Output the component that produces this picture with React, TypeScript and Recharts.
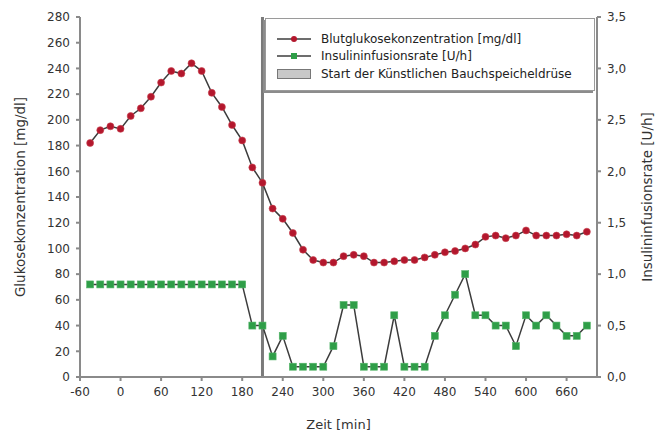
import { ComposedChart, Line, XAxis, YAxis, ReferenceLine, Legend } from "recharts";

// minutes relative to start
const times = [
  -45, -30, -15, 0, 15, 30, 45, 60, 75, 90, 105, 120, 135, 150, 165, 180, 195, 210, 225, 240,
  255, 270, 285, 300, 315, 330, 345, 360, 375, 390, 405, 420, 435, 450, 465, 480, 495, 510, 525, 540,
  555, 570, 585, 600, 615, 630, 645, 660, 675, 690,
];

// Blutglukose [mg/dl]
const glucose = [
  182, 192, 195, 193, 203, 209, 218, 229, 238, 236, 244, 238, 221, 210, 196, 184, 163, 151, 131, 123,
  112, 99, 91, 89, 89, 94, 95, 94, 89, 89, 90, 91, 91, 93, 95, 97, 98, 100, 103, 109,
  110, 108, 110, 114, 110, 110, 110, 111, 110, 113,
];

// Insulininfusionsrate [U/h]
const insulin = [
  0.9, 0.9, 0.9, 0.9, 0.9, 0.9, 0.9, 0.9, 0.9, 0.9, 0.9, 0.9, 0.9, 0.9, 0.9, 0.9, 0.5, 0.5, 0.2, 0.4,
  0.1, 0.1, 0.1, 0.1, 0.3, 0.7, 0.7, 0.1, 0.1, 0.1, 0.6, 0.1, 0.1, 0.1, 0.4, 0.6, 0.8, 1.0, 0.6, 0.6,
  0.5, 0.5, 0.3, 0.6, 0.5, 0.6, 0.5, 0.4, 0.4, 0.5,
];

const timeTicks = [-60, 0, 60, 120, 180, 240, 300, 360, 420, 480, 540, 600, 660];
const glucoseTicks = [0, 20, 40, 60, 80, 100, 120, 140, 160, 180, 200, 220, 240, 260, 280];
const insulinTicks = [0, 0.5, 1, 1.5, 2, 2.5, 3, 3.5];
const startTime = 210;

const data = times.map((t, i) => ({ t, glucose: glucose[i], insulin: insulin[i] }));

const FONT = "'DejaVu Sans', Verdana, sans-serif";
const AXIS = "#8a8a8a";
const TEXT = "#333";
const RED = "#b3172d";
const GREEN = "#2f9e48";
const LINE = "#3c3c3c";
const tick = { fill: TEXT, fontSize: 12, fontFamily: FONT };

const SquareDot = (props: any) => {
  const { cx, cy, index } = props;
  if (cx == null || cy == null) return null;
  return <rect key={`sq-${index}`} x={cx - 3.5} y={cy - 3.5} width={7} height={7} fill={GREEN} stroke="#55b56a" strokeWidth={0.6} />;
};

const legendItems = [
  { label: "Blutglukosekonzentration [mg/dl]", kind: "line", color: RED },
  { label: "Insulininfusionsrate [U/h]", kind: "line", color: GREEN },
  { label: "Start der Künstlichen Bauchspeicheldrüse", kind: "box", color: "#c8c8c8" },
];

function LegendBox() {
  return (
    <div
      style={{
        width: 330,
        height: 73,
        boxSizing: "border-box",
        background: "#fff",
        border: "1px solid #9a9a9a",
        boxShadow: "-2px 2px 0 #8c8c8c",
        padding: "11px 0 0 11px",
        fontFamily: FONT,
        fontSize: 12,
        color: "#222",
      }}
    >
      {legendItems.map((it) => (
        <div key={it.label} style={{ display: "flex", alignItems: "center", height: 17.5, whiteSpace: "nowrap" }}>
          <svg width={34} height={12} style={{ marginRight: 10, flex: "none" }}>
            {it.kind === "line" ? (
              <>
                <line x1={0} y1={6} x2={34} y2={6} stroke={LINE} strokeWidth={1.5} />
                {it.color === RED ? (
                  <circle cx={17} cy={6} r={3} fill={RED} />
                ) : (
                  <rect x={14} y={3} width={6} height={6} fill={GREEN} />
                )}
              </>
            ) : (
              <rect x={0.5} y={1.5} width={33} height={9} fill={it.color} stroke="#777" strokeWidth={1} />
            )}
          </svg>
          <span>{it.label}</span>
        </div>
      ))}
    </div>
  );
}

export default function App() {
  return (
    <div style={{ position: "fixed", left: 0, top: 0, width: 670, height: 435, background: "#fff" }}>
      <ComposedChart width={670} height={435} data={data} margin={{ top: 17, right: 0, left: 0, bottom: 0 }}>
        <XAxis
          dataKey="t"
          type="number"
          domain={[-60, 705]}
          ticks={timeTicks}
          allowDataOverflow
          tick={tick}
          tickSize={4}
          tickMargin={6}
          height={58}
          stroke={AXIS}
          strokeWidth={2}
          label={{ value: "Zeit [min]", position: "center", dy: 18, fill: TEXT, fontSize: 13, fontFamily: FONT }}
        />
        <XAxis xAxisId="top" orientation="top" type="number" domain={[-60, 705]} tick={false} tickLine={false} height={0} stroke={AXIS} strokeWidth={2} />
        <YAxis
          yAxisId="left"
          domain={[0, 280]}
          ticks={glucoseTicks}
          tick={tick}
          tickSize={4}
          tickMargin={6}
          width={80}
          stroke={AXIS}
          strokeWidth={2}
          label={{ value: "Glukosekonzentration [mg/dl]", angle: -90, position: "center", dx: -20, fill: TEXT, fontSize: 13.5, fontFamily: FONT }}
        />
        <YAxis
          yAxisId="right"
          orientation="right"
          domain={[0, 3.5]}
          ticks={insulinTicks}
          tickFormatter={(v: number) => v.toFixed(1).replace(".", ",")}
          tick={tick}
          tickSize={4}
          tickMargin={6}
          width={73}
          stroke={AXIS}
          strokeWidth={2}
          label={{ value: "Insulininfusionsrate [U/h]", angle: -90, position: "center", dx: 14, fill: TEXT, fontSize: 13.5, fontFamily: FONT }}
        />
        <ReferenceLine yAxisId="left" x={startTime} stroke="#7a7a7a" strokeWidth={3} />
        <Legend
          layout="vertical"
          align="center"
          verticalAlign="middle"
          wrapperStyle={{ left: 265, top: 18, width: 330, height: 73 }}
          content={() => <LegendBox />}
        />
        <Line
          yAxisId="left"
          dataKey="glucose"
          name="Blutglukosekonzentration [mg/dl]"
          stroke={LINE}
          strokeWidth={1.5}
          dot={{ r: 3.5, fill: RED, stroke: "#c9414f", strokeWidth: 0.6 }}
          isAnimationActive={false}
        />
        <Line
          yAxisId="right"
          dataKey="insulin"
          name="Insulininfusionsrate [U/h]"
          stroke={LINE}
          strokeWidth={1.5}
          dot={SquareDot}
          isAnimationActive={false}
        />
      </ComposedChart>
    </div>
  );
}
